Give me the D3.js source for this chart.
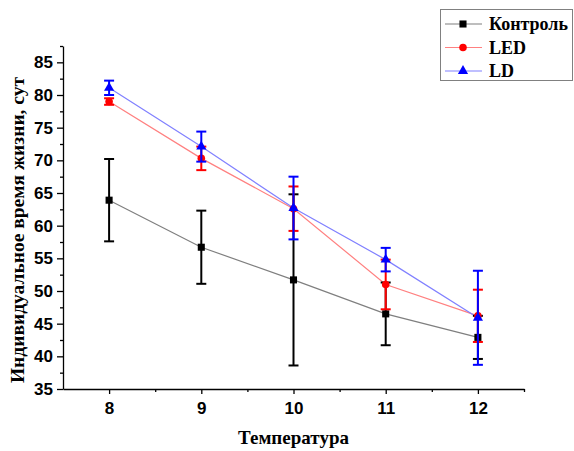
<!DOCTYPE html>
<html>
<head>
<meta charset="utf-8">
<script src="https://cdn.jsdelivr.net/npm/d3@7"></script>
<style>
  html, body { margin: 0; padding: 0; background: #fff; }
  svg { display: block; }
  .tick text { font-family: "Liberation Sans", Arial, sans-serif; font-weight: bold; }
</style>
</head>
<body>
<svg id="chart" width="574" height="451"></svg>
<script>
// Temperatures on the x axis
const temperatures = [8, 9, 10, 11, 12];

// Mean individual lifespan (days) and error half-widths for each group
const controlMean = [63.9, 56.7, 51.7, 46.5, 42.9];
const controlErr  = [6.3, 5.6, 13.1, 4.8, 3.3];
const ledMean     = [79.0, 70.3, 62.6, 51.0, 46.2];
const ledErr      = [0.5, 1.8, 3.4, 3.8, 4.0];
const ldMean      = [81.1, 72.1, 62.7, 54.8, 45.9];
const ldErr       = [1.1, 2.3, 4.8, 1.8, 7.2];

const seriesNames = ["Контроль", "LED", "LD"];
const xTickLabels = ["8", "9", "10", "11", "12"];
const yTickValues = [35, 40, 45, 50, 55, 60, 65, 70, 75, 80, 85];

const series = [
  { name: seriesNames[0], mean: controlMean, err: controlErr, color: "#000000", line: "#7f7f7f", shape: d3.symbolSquare, size: 50 },
  { name: seriesNames[1], mean: ledMean, err: ledErr, color: "#ff0000", line: "#ff8080", shape: d3.symbolCircle, size: 45 },
  { name: seriesNames[2], mean: ldMean, err: ldErr, color: "#0000ff", line: "#8080ff", shape: d3.symbolTriangle, size: 45 }
];

const svg = d3.select("#chart");
const plotLeft = 63, plotRight = 524, plotTop = 46, plotBottom = 389;

const x = d3.scaleLinear().domain([7.5, 12.5]).range([plotLeft, plotRight]);
const y = d3.scaleLinear().domain([35, 87.5]).range([plotBottom, plotTop]);

// Axes with major and half-step minor ticks
const xAxis = svg.append("g").attr("transform", `translate(0,${plotBottom})`)
  .call(d3.axisBottom(x).tickValues(temperatures).tickFormat((d, i) => xTickLabels[i]).tickSize(5).tickSizeOuter(0));
xAxis.selectAll(".tick text").attr("font-size", 17).attr("dy", "1.0em");
svg.append("g").attr("transform", `translate(0,${plotBottom})`)
  .call(d3.axisBottom(x).tickValues([8.5, 9.5, 10.5, 11.5, 12.5]).tickFormat("").tickSize(3).tickSizeOuter(0))
  .select(".domain").remove();

const yAxis = svg.append("g").attr("transform", `translate(${plotLeft},0)`)
  .call(d3.axisLeft(y).tickValues(yTickValues).tickSize(6).tickSizeOuter(0));
yAxis.selectAll(".tick text").attr("font-size", 17).attr("x", -10);
svg.append("g").attr("transform", `translate(${plotLeft},0)`)
  .call(d3.axisLeft(y).tickValues(d3.range(37.5, 87.6, 5)).tickFormat("").tickSize(3).tickSizeOuter(0))
  .select(".domain").remove();

svg.selectAll(".domain, .tick line").attr("stroke", "#000").attr("stroke-width", 1.3);

// Axis titles
svg.append("text")
  .attr("x", (plotLeft + plotRight) / 2).attr("y", 444)
  .attr("text-anchor", "middle")
  .attr("font-family", "Liberation Serif, Times New Roman, serif")
  .attr("font-weight", "bold").attr("font-size", 19)
  .text("Температура");

svg.append("text")
  .attr("transform", "translate(24,230) rotate(-90)")
  .attr("text-anchor", "middle")
  .attr("font-family", "Liberation Serif, Times New Roman, serif")
  .attr("font-weight", "bold").attr("font-size", 19.5)
  .text("Индивидуальное время жизни, сут");

// Connecting lines
const lineGen = d3.line().x((d, i) => x(temperatures[i])).y(d => y(d));
series.forEach(s => {
  svg.append("path").datum(s.mean)
    .attr("d", lineGen)
    .attr("fill", "none").attr("stroke", s.line).attr("stroke-width", 1.2);
});

// Error bars and markers, one series after another
series.forEach(s => {
  const g = svg.append("g");
  const cap = 5;
  s.mean.forEach((m, i) => {
    const cx = x(temperatures[i]);
    const y1 = y(m + s.err[i]), y2 = y(m - s.err[i]);
    g.append("line").attr("x1", cx).attr("x2", cx).attr("y1", y1).attr("y2", y2)
      .attr("stroke", s.color).attr("stroke-width", 2);
    [y1, y2].forEach(yy => g.append("line")
      .attr("x1", cx - cap).attr("x2", cx + cap).attr("y1", yy).attr("y2", yy)
      .attr("stroke", s.color).attr("stroke-width", 2));
  });
  g.selectAll("path.mark").data(s.mean).enter().append("path")
    .attr("class", "mark")
    .attr("transform", (d, i) => `translate(${x(temperatures[i])},${y(d)})`)
    .attr("d", d3.symbol().type(s.shape).size(s.size))
    .attr("fill", s.color);
});

// Legend
const lg = svg.append("g");
lg.append("rect").attr("x", 440.5).attr("y", 9.5).attr("width", 132).attr("height", 71)
  .attr("fill", "#fff").attr("stroke", "#808080").attr("stroke-width", 1);
series.forEach((s, i) => {
  const ly = 24 + i * 23.5;
  lg.append("line").attr("x1", 445).attr("x2", 482).attr("y1", ly).attr("y2", ly)
    .attr("stroke", s.line).attr("stroke-width", 1.2);
  lg.append("path").attr("transform", `translate(463,${ly})`)
    .attr("d", d3.symbol().type(s.shape).size(s.size)).attr("fill", s.color);
  lg.append("text").attr("x", 489).attr("y", ly + 6)
    .attr("font-family", "Liberation Serif, Times New Roman, serif")
    .attr("font-weight", "bold").attr("font-size", 18)
    .text(s.name);
});
</script>
</body>
</html>
